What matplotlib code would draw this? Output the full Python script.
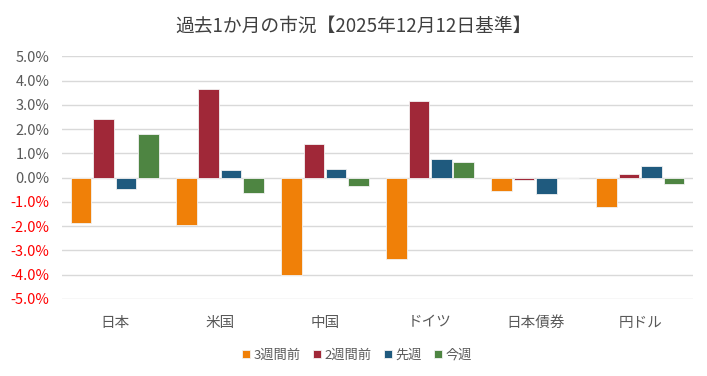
import numpy as np
import matplotlib
matplotlib.use('Agg')
import matplotlib.pyplot as plt
from matplotlib.ticker import FuncFormatter

plt.rcParams['font.family'] = ['Noto Sans CJK JP', 'DejaVu Sans']

categories = ['日本', '米国', '中国', 'ドイツ', '日本債券', '円ドル']
series_names = ['3週間前', '2週間前', '先週', '今週']
weeks3_ago = [-1.85, -1.97, -4.0, -3.35, -0.55, -1.22]
weeks2_ago = [2.42, 3.67, 1.38, 3.17, -0.08, 0.15]
last_week = [-0.48, 0.30, 0.35, 0.78, -0.68, 0.50]
this_week = [1.80, -0.62, -0.35, 0.65, 0.0, -0.25]
colors = ['#F08008', '#A02838', '#1F5A7E', '#4E8542']

fig = plt.figure(figsize=(7.07, 3.76), dpi=100)
ax = fig.add_axes([0.088, 0.205, 0.892, 0.645])

x = np.arange(len(categories))
w = 0.195
gap = 0.018
offsets = [-1.5, -0.5, 0.5, 1.5]
for vals, name, c, off in zip([weeks3_ago, weeks2_ago, last_week, this_week], series_names, colors, offsets):
    ax.bar(x + off * (w + gap), vals, w, color=c, edgecolor='#F2F2F2', linewidth=0.6, label=name, zorder=3)

ax.set_ylim(-5, 5)
ax.set_yticks(np.arange(-5, 5.01, 1))
ax.yaxis.set_major_formatter(FuncFormatter(lambda v, p: '%.1f%%' % v))
ax.set_xlim(-0.5, len(categories) - 0.5)
ax.set_xticks(x)
ax.set_xticklabels(categories)
ax.grid(axis='y', color='#D9D9D9', linewidth=1, zorder=0)
for s in ax.spines.values():
    s.set_visible(False)
ax.tick_params(length=0, labelsize=10.5, labelcolor='#595959')
ax.tick_params(axis='y', pad=9)
ax.tick_params(axis='x', pad=12)
for lab, v in zip(ax.get_yticklabels(), ax.get_yticks()):
    if v < 0:
        lab.set_color('#FF0000')

fig.text(0.5, 0.93, '過去1か月の市況【2025年12月12日基準】', ha='center', va='center', fontsize=13.5, color='#404040')
handles, labels = ax.get_legend_handles_labels()
leg = fig.legend(handles, labels, loc='center', bbox_to_anchor=(0.505, 0.055), ncol=4, frameon=False,
                 fontsize=9.5, handlelength=0.6, handleheight=0.6, handletextpad=0.3, columnspacing=0.9)
for t in leg.get_texts():
    t.set_color('#595959')

fig.savefig('out.png', dpi=100)
